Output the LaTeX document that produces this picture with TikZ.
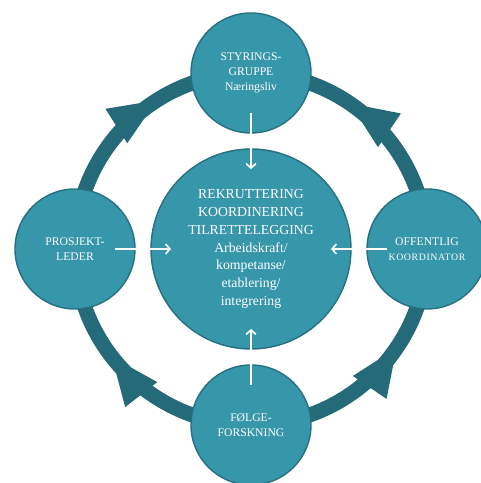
\documentclass[tikz,border=0pt]{standalone}
\usepackage{fontspec}
\setmainfont{Liberation Serif}
\usetikzlibrary{arrows.meta}
\usetikzlibrary{decorations.markings}
\usetikzlibrary{backgrounds}

\definecolor{discteal}{RGB}{54,150,170}
\definecolor{rimteal}{RGB}{38,112,128}
\definecolor{ringteal}{RGB}{37,106,121}

\begin{document}
\begin{tikzpicture}[
    disc/.style={circle, fill=discteal, draw=rimteal, line width=1pt, inner sep=0pt, text=white, align=center},
    sat/.style={disc, minimum size=3cm, font=\fontsize{8.3}{10.6}\selectfont},
    flow/.style={white, line width=1.2pt, -{Straight Barb[length=3pt,width=7pt]}, shorten <=1cm, shorten >=2cm},
    ring/.style={ringteal, line width=0.375cm,
      decoration={markings, mark=at position #1 with {\arrow{Triangle[width=29pt,length=34pt,line width=0pt]}}},
      postaction={decorate}}
  ]
  \useasboundingbox (-6.275,-5.85) rectangle (5.725,6.225);

  \node[disc, minimum size=5cm, font=\fontsize{9.8}{12.6}\selectfont] (hub) at (0,0)
    {REKRUTTERING\\KOORDINERING\\TILRETTELEGGING\\Arbeidskraft/\\kompetanse/\\etablering/\\integrering};
  \node[sat] (styring) at (0,4.4) {STYRINGS-\\GRUPPE\\Næringsliv};
  \node[sat] (leder) at (-4.4,0) {PROSJEKT-\\LEDER};
  \node[sat] (offentlig) at (4.4,0)
    {OFFENTLIG\\{\fontsize{7}{9}\selectfont\addfontfeatures{LetterSpace=6}KOORDINATOR}};
  \node[sat] (forskning) at (0,-4.4) {FØLGE-\\FORSKNING};

  \begin{scope}[on background layer]
    \draw[ring=0.64] (leder.center) arc[start angle=180, end angle=90, radius=4.4cm];
    \draw[ring=0.62] (offentlig.center) arc[start angle=0, end angle=90, radius=4.4cm];
    \draw[ring=0.58] (forskning.center) arc[start angle=270, end angle=180, radius=4.4cm];
    \draw[ring=0.62] (forskning.center) arc[start angle=-90, end angle=0, radius=4.4cm];
  \end{scope}

  \draw[flow] (styring.center) -- (hub.center);
  \draw[flow] (leder.center) -- (hub.center);
  \draw[flow] (offentlig.center) -- (hub.center);
  \draw[flow] (forskning.center) -- (hub.center);
\end{tikzpicture}
\end{document}
